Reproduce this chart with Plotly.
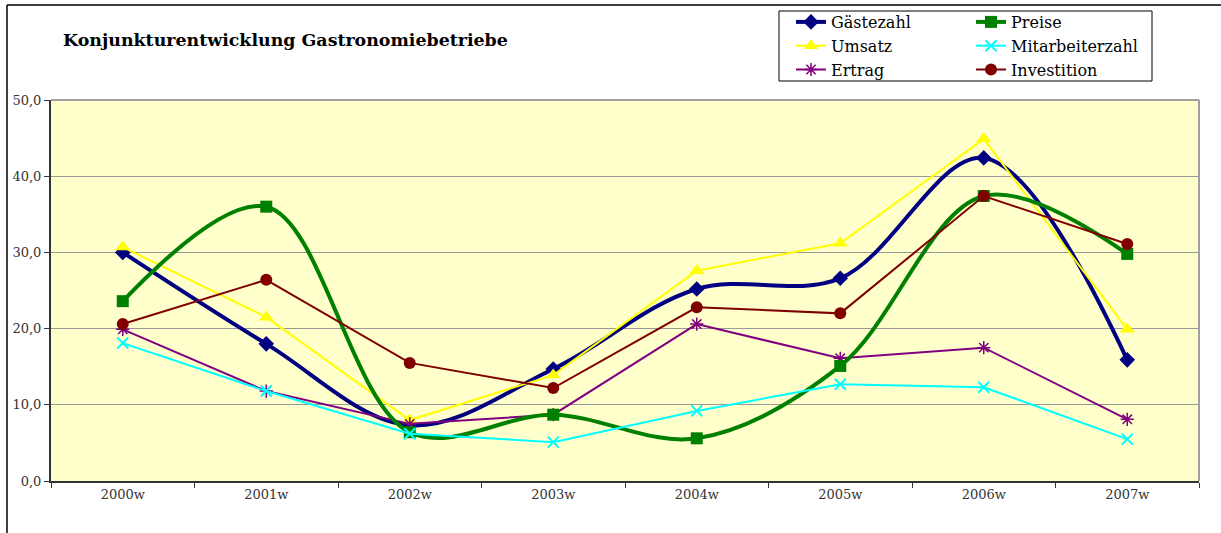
import plotly.graph_objects as go

years = ["2000w", "2001w", "2002w", "2003w", "2004w", "2005w", "2006w", "2007w"]
gaestezahl = [30.0, 18.0, 7.3, 14.7, 25.2, 26.6, 42.4, 15.9]
preise = [23.6, 36.0, 6.4, 8.7, 5.6, 15.1, 37.4, 29.8]
umsatz = [30.7, 21.5, 8.0, 13.9, 27.6, 31.2, 44.9, 19.9]
mitarbeiterzahl = [18.1, 11.8, 6.2, 5.1, 9.2, 12.7, 12.3, 5.5]
ertrag = [19.9, 11.8, 7.5, 8.7, 20.6, 16.1, 17.5, 8.1]
investition = [20.6, 26.4, 15.5, 12.2, 22.8, 22.0, 37.4, 31.1]
y_ticks = [0, 10, 20, 30, 40, 50]

W, H = 1221, 533
L, R, T, B = 51, 22, 100, 52
pw, ph = W - L - R, H - T - B

def px(x):
    return (x - L) / pw

def py(y):
    return (H - B - y) / ph

FONT = "DejaVu Serif"

fig = go.Figure()

def add(name, y, color, symbol, size, lw, shape, legend, mline=None):
    marker = dict(symbol=symbol, size=size, color=color)
    if mline:
        marker["line"] = dict(color=color, width=mline)
    fig.add_trace(go.Scatter(
        x=years, y=y, name=name, mode="lines+markers",
        line=dict(color=color, width=lw, shape=shape, smoothing=1.0),
        marker=marker, legend=legend))

add("Gästezahl", gaestezahl, "#000080", "diamond", 12, 4, "spline", "legend")
add("Umsatz", umsatz, "#FFFF00", "triangle-up", 13, 2, "linear", "legend")
add("Ertrag", ertrag, "#800080", "asterisk", 11, 2, "linear", "legend", mline=1.5)
add("Preise", preise, "#008000", "square", 12, 4, "spline", "legend2")
add("Mitarbeiterzahl", mitarbeiterzahl, "#00FFFF", "x-thin", 11, 2, "linear", "legend2", mline=2)
add("Investition", investition, "#800000", "circle", 12, 2, "linear", "legend2")

legend_common = dict(
    font=dict(family=FONT, size=16, color="#000000"),
    bgcolor="rgba(0,0,0,0)", borderwidth=0, tracegroupgap=0,
    xanchor="left", yanchor="top", itemclick=False, itemdoubleclick=False,
)

fig.update_layout(
    width=W, height=H,
    margin=dict(l=L, r=R, t=T, b=B, autoexpand=False),
    paper_bgcolor="white",
    plot_bgcolor="#FFFFCC",
    separators=", ",
    showlegend=True,
    legend=dict(x=px(791), y=py(5), **legend_common),
    legend2=dict(x=px(971), y=py(5), **legend_common),
    xaxis=dict(
        type="category", tickson="boundaries", ticks="outside", ticklen=5,
        tickcolor="#333333", showline=True, linecolor="#333333", linewidth=2,
        showgrid=False, mirror=False, range=[-0.5, 7.5],
        tickfont=dict(family=FONT, size=13, color="#333333"),
    ),
    yaxis=dict(
        range=[0, 50], tickvals=y_ticks, tickformat=".1f",
        ticks="outside", ticklen=5, tickcolor="#333333",
        showline=True, linecolor="#333333", linewidth=2,
        showgrid=True, gridcolor="#999999", gridwidth=1, zeroline=False,
        tickfont=dict(family=FONT, size=13, color="#333333"),
    ),
    shapes=[
        # plot area top and right border
        dict(type="line", xref="paper", yref="paper", x0=0, x1=1, y0=1, y1=1,
             line=dict(color="#A0A0A0", width=2)),
        dict(type="line", xref="paper", yref="paper", x0=1, x1=1, y0=0, y1=1,
             line=dict(color="#A0A0A0", width=2)),
        # outer frame
        dict(type="line", xref="paper", yref="paper", x0=px(7), x1=px(W + 5), y0=py(5), y1=py(5),
             line=dict(color="#000000", width=1.5)),
        dict(type="line", xref="paper", yref="paper", x0=px(7), x1=px(7), y0=py(5), y1=py(H + 5),
             line=dict(color="#000000", width=1.5)),
        # legend box
        dict(type="rect", xref="paper", yref="paper", x0=px(779), x1=px(1152), y0=py(11), y1=py(81),
             line=dict(color="#000000", width=1), fillcolor="rgba(0,0,0,0)"),
    ],
    annotations=[
        dict(text="<b>Konjunkturentwicklung Gastronomiebetriebe</b>", xref="paper", yref="paper",
             x=px(61), y=py(40), xanchor="left", yanchor="middle", showarrow=False,
             font=dict(family=FONT, size=17.4, color="#000000")),
    ],
)

fig.write_html("out.html", config={"displayModeBar": False},
               post_script="document.body.style.margin='0';document.body.style.overflow='hidden';")
